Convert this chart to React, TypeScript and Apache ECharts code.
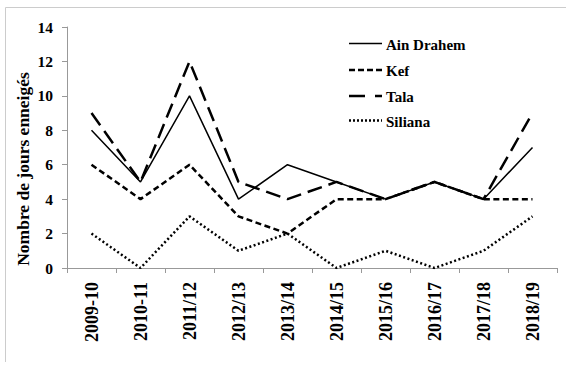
import React, { useEffect, useRef } from "react";
import * as echarts from "echarts";

const categories = ["2009-10", "2010-11", "2011/12", "2012/13", "2013/14", "2014/15", "2015/16", "2016/17", "2017/18", "2018/19"];
const ainDrahem = [8, 5, 10, 4, 6, 5, 4, 5, 4, 7];
const kef = [6, 4, 6, 3, 2, 4, 4, 5, 4, 4];
const tala = [9, 5, 12, 5, 4, 5, 4, 5, 4, 9];
const siliana = [2, 0, 3, 1, 2, 0, 1, 0, 1, 3];
const seriesNames = ["Ain Drahem", "Kef", "Tala", "Siliana"];
const yAxisTitle = "Nombre de jours enneigés";

const FONT = "Liberation Serif";

export default function App() {
  const ref = useRef<HTMLDivElement>(null);
  useEffect(() => {
    document.body.style.margin = "0";
    const chart = echarts.init(ref.current!, null, { renderer: "svg" });
    const styles = [
      { width: 1.5, type: "solid" as any, legendDash: null as any },
      { width: 2.5, type: [6, 3.5] as any, legendDash: [6, 3] },
      { width: 2.5, type: [15, 7] as any, legendDash: [16, 10] },
      { width: 2.5, type: [2, 2.5] as any, legendDash: [2, 2] },
    ];
    const data = [ainDrahem, kef, tala, siliana];
    const legendY = [43.5, 70, 96, 120.5];
    const legendGraphics: any[] = [];
    seriesNames.forEach((n, i) => {
      legendGraphics.push({
        type: "line",
        shape: { x1: 349, y1: legendY[i], x2: 382, y2: legendY[i] },
        style: { stroke: "#000", lineWidth: styles[i].width, lineDash: styles[i].legendDash },
      });
      legendGraphics.push({
        type: "text",
        x: 386,
        y: legendY[i] + 1,
        style: { text: n, fontFamily: FONT, fontWeight: "bold", fontSize: 15, fill: "#000", verticalAlign: "middle" },
      });
    });
    chart.setOption({
      animation: false,
      backgroundColor: "#fff",
      textStyle: { fontFamily: FONT },
      grid: { left: 67, top: 27, width: 490, height: 241, containLabel: false },
      xAxis: {
        type: "category",
        data: categories,
        boundaryGap: true,
        axisLine: { lineStyle: { color: "#999", width: 1 } },
        axisTick: { show: true, length: 5, lineStyle: { color: "#999" } },
        axisLabel: { rotate: 90, margin: 14, color: "#000", fontFamily: FONT, fontWeight: "bold", fontSize: 18 },
        splitLine: { show: false },
      },
      yAxis: {
        type: "value",
        min: 0,
        max: 14,
        interval: 2,
        axisLine: { show: true, lineStyle: { color: "#999", width: 1 } },
        axisTick: { show: true, length: 5, lineStyle: { color: "#999" } },
        axisLabel: { color: "#000", fontFamily: FONT, fontWeight: "bold", fontSize: 15.5, margin: 14 },
        splitLine: { show: false },
      },
      series: seriesNames.map((n, i) => ({
        name: n,
        type: "line",
        data: data[i],
        symbol: "none",
        lineStyle: { color: "#000", width: styles[i].width, type: styles[i].type },
      })),
      graphic: [
        {
          type: "line",
          shape: { x1: 5.5, y1: 7.5, x2: 566, y2: 7.5 },
          style: { stroke: "#ccc", lineWidth: 1 },
          silent: true,
        },
        {
          type: "line",
          shape: { x1: 5.5, y1: 7.5, x2: 5.5, y2: 362 },
          style: { stroke: "#ccc", lineWidth: 1 },
          silent: true,
        },
        {
          type: "text",
          x: 23,
          y: 169,
          rotation: Math.PI / 2,
          style: {
            text: yAxisTitle,
            fontFamily: FONT,
            fontWeight: "bold",
            fontSize: 17.5,
            fill: "#000",
            align: "center",
            verticalAlign: "middle",
          },
        },
        ...legendGraphics,
      ],
    });
    return () => chart.dispose();
  }, []);
  return <div ref={ref} style={{ width: 566, height: 365 }} />;
}
